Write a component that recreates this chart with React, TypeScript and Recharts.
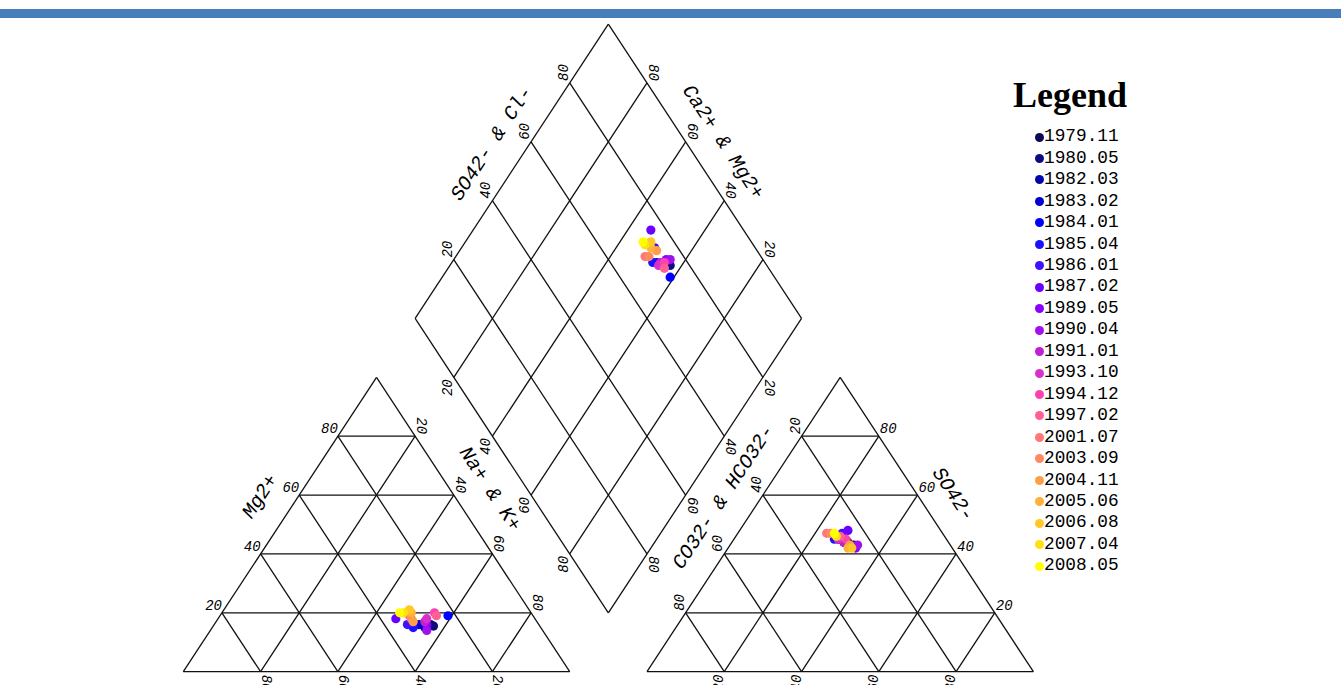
import { ScatterChart, Scatter, XAxis, YAxis, ReferenceLine } from "recharts";

// sampling dates and marker colours (legend order)
const sampleDates = [
  "1979.11", "1980.05", "1982.03", "1983.02", "1984.01", "1985.04", "1986.01",
  "1987.02", "1989.05", "1990.04", "1991.01", "1993.10", "1994.12", "1997.02",
  "2001.07", "2003.09", "2004.11", "2005.06", "2006.08", "2007.04", "2008.05",
];
const sampleColors = [
  "#0a0a50", "#0c0c80", "#0606a6", "#0000d0", "#0000ff", "#1a10ff", "#4010ff",
  "#6a00ff", "#8a00ff", "#a010f0", "#c020d0", "#d830c8", "#ff40b0", "#ff6098",
  "#ff7878", "#ff8a60", "#ff9e4a", "#ffb23a", "#ffc828", "#ffe010", "#ffff00",
];

// cations, % meq
const caPct = [28, 27.5, 30, 31, 22, 33, 34, 36, 29, 30, 29, 28, 25, 25, 32, 32, 32, 31, 31, 33, 34];
const mgPct = [16, 15.5, 15, 16, 19, 15, 16, 18, 16, 14, 17, 18, 20, 19, 19, 18, 17, 20, 21, 20, 20];
const naKPct = [56, 57, 55, 53, 59, 52, 50, 46, 55, 56, 54, 54, 55, 56, 49, 50, 51, 49, 48, 47, 46];

// anions, % meq
const hco3Pct = [26, 25, 27, 28, 27, 29, 26, 24, 25, 24, 27, 28, 26, 27, 30, 29, 26, 27, 26, 28, 28];
const so4Pct = [44, 43, 44, 45, 44, 45, 47, 48, 42, 43, 44, 45, 45, 46, 47, 47, 43, 42, 42, 46, 47];
const clPct = [30, 32, 29, 27, 29, 26, 27, 28, 33, 33, 29, 27, 29, 27, 23, 24, 31, 31, 32, 26, 25];

const gridTicks = [20, 40, 60, 80];

// piper layout: triangle base = 100 units wide, 100 units high, gap between triangles
const GAP = 20;
const W = 1341;
const H = 685;
const X_DOMAIN: [number, number] = [-47.44, 299.61];
const Y_DOMAIN: [number, number] = [-4.52, 228.16];
const SLOPE_DEG = 56.7;

type Pt = { x: number; y: number };
const cation = (ca: number, mg: number, nak: number): Pt => ({ x: nak + mg / 2, y: mg });
const anion = (hco3: number, so4: number, cl: number): Pt => ({ x: 100 + GAP + cl + so4 / 2, y: so4 });
// c = Ca+Mg, a = SO4+Cl
const diamond = (c: number, a: number): Pt => ({ x: 100 + GAP / 2 + (a - c) / 2, y: GAP + a + c });

const segments: [Pt, Pt][] = [];
segments.push([cation(100, 0, 0), cation(0, 0, 100)], [cation(0, 0, 100), cation(0, 100, 0)], [cation(0, 100, 0), cation(100, 0, 0)]);
segments.push([anion(100, 0, 0), anion(0, 0, 100)], [anion(0, 0, 100), anion(0, 100, 0)], [anion(0, 100, 0), anion(100, 0, 0)]);
segments.push([diamond(0, 0), diamond(100, 0)], [diamond(100, 0), diamond(100, 100)], [diamond(100, 100), diamond(0, 100)], [diamond(0, 100), diamond(0, 0)]);
gridTicks.forEach((t) => {
  segments.push([cation(100 - t, t, 0), cation(0, t, 100 - t)]);
  segments.push([cation(100 - t, 0, t), cation(0, 100 - t, t)]);
  segments.push([cation(t, 0, 100 - t), cation(t, 100 - t, 0)]);
  segments.push([anion(100 - t, t, 0), anion(0, t, 100 - t)]);
  segments.push([anion(100 - t, 0, t), anion(0, 100 - t, t)]);
  segments.push([anion(t, 0, 100 - t), anion(t, 100 - t, 0)]);
  segments.push([diamond(t, 0), diamond(t, 100)]);
  segments.push([diamond(0, t), diamond(100, t)]);
});

type Lbl = Pt & { text: string; angle: number; anchor: string; base?: string; ox: number; oy: number; size: number };
const labels: Lbl[] = [];
const tick = (p: Pt, text: string, angle: number, anchor: string, ox: number, oy: number) =>
  labels.push({ ...p, text, angle, anchor, ox, oy, size: 14 });
gridTicks.forEach((t) => {
  tick(cation(100 - t, t, 0), `${t}`, 0, "end", 0, -3);
  tick(cation(0, 100 - t, t), `${t}`, 90, "end", 2, -2);
  tick(cation(t, 0, 100 - t), `${t}`, 90, "start", 1, 3);
  tick(anion(0, t, 100 - t), `${t}`, 0, "start", 1, -3);
  tick(anion(t, 100 - t, 0), `${t}`, -90, "start", -2, -2);
  tick(anion(100 - t, 0, t), `${t}`, -90, "end", -1, 3);
  tick(diamond(100, t), `${t}`, -90, "start", -2, -2);
  tick(diamond(t, 100), `${t}`, 90, "end", 2, -2);
  tick(diamond(t, 0), `${100 - t}`, -90, "end", -2, 2);
  tick(diamond(0, t), `${100 - t}`, 90, "start", 2, 2);
});
const title = (p: Pt, text: string, angle: number, ox: number) =>
  labels.push({ ...p, text, angle, anchor: "middle", base: "central", ox, oy: 0, size: 20 });
title(cation(40.5, 59.5, 0), "Mg2+", -SLOPE_DEG, -38);
title(cation(0, 62, 38), "Na+ & K+", SLOPE_DEG, 40);
title(diamond(100, 59.4), "SO42- & Cl-", -SLOPE_DEG, -38);
title(diamond(59.9, 100), "Ca2+ & Mg2+", SLOPE_DEG, 37);
title(anion(40.7, 59.3, 0), "CO32- & HCO32-", -SLOPE_DEG, -38);
title(anion(0, 60.2, 39.8), "SO42-", SLOPE_DEG, 36);

const sampleSeries = sampleDates.map((date, i) => ({
  name: date,
  color: sampleColors[i],
  points: [
    cation(caPct[i], mgPct[i], naKPct[i]),
    anion(hco3Pct[i], so4Pct[i], clPct[i]),
    diamond(caPct[i] + mgPct[i], so4Pct[i] + clPct[i]),
  ],
}));

const FONT = "'Liberation Mono', 'Courier New', monospace";

const LabelShape = (p: any) => {
  const d = p.payload as Lbl;
  const x = p.cx + d.ox;
  const y = p.cy + d.oy;
  return (
    <text
      x={x}
      y={y}
      textAnchor={d.anchor as any}
      dominantBaseline={(d.base || "auto") as any}
      transform={d.angle ? `rotate(${d.angle} ${x} ${y})` : undefined}
      fontFamily={FONT}
      fontStyle="italic"
      fontSize={d.size}
      fill="#000"
    >
      {d.text}
    </text>
  );
};

const Dot = (p: any) => <circle cx={p.cx} cy={p.cy} r={4.6} fill={p.fill} />;

export default function App() {
  return (
    <div style={{ position: "absolute", left: 0, top: 0, width: W, height: H, overflow: "hidden", background: "#fff" }}>
      <div style={{ position: "absolute", left: 0, top: 9, width: W, height: 9, background: "#4a7ebb" }} />
      <div style={{ position: "absolute", left: 0, top: 0 }}>
        <ScatterChart width={W} height={H} margin={{ top: 0, right: 0, bottom: 0, left: 0 }}>
          <XAxis type="number" dataKey="x" domain={X_DOMAIN} allowDataOverflow hide scale="linear" />
          <YAxis type="number" dataKey="y" domain={Y_DOMAIN} allowDataOverflow hide scale="linear" />
          {segments.map((s, i) => (
            <ReferenceLine key={i} segment={s} stroke="#111" strokeWidth={1.3} ifOverflow="visible" />
          ))}
          <Scatter data={labels} shape={LabelShape} legendType="none" isAnimationActive={false} />
          {sampleSeries.map((s) => (
            <Scatter key={s.name} name={s.name} data={s.points} fill={s.color} shape={Dot} isAnimationActive={false} />
          ))}
        </ScatterChart>
      </div>
      <div
        style={{
          position: "absolute", left: 990, top: 75, width: 160, textAlign: "center",
          fontFamily: "'Liberation Serif', 'Times New Roman', serif", fontWeight: "bold",
          fontSize: 36, lineHeight: "40px", color: "#000",
        }}
      >
        Legend
      </div>
      {sampleSeries.map((s, i) => (
        <div
          key={s.name}
          style={{
            position: "absolute", left: 1035, top: 126.3 + 21.45 * i, height: 21.6,
            display: "flex", alignItems: "center", fontFamily: FONT, fontSize: 17.8, lineHeight: "21.6px", color: "#000",
          }}
        >
          <span style={{ width: 9, height: 9, borderRadius: 4.5, background: s.color, marginRight: 0, display: "inline-block" }} />
          <span>{s.name}</span>
        </div>
      ))}
    </div>
  );
}
